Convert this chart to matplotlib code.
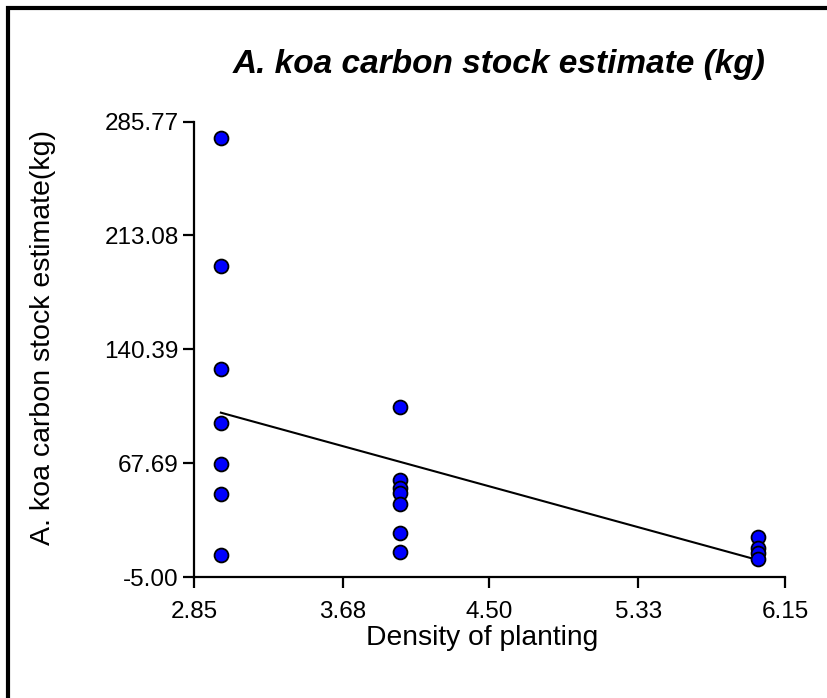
import matplotlib
matplotlib.use("Agg")
import matplotlib.pyplot as plt
from matplotlib.lines import Line2D

plt.rcParams['font.family'] = ['Liberation Sans', 'DejaVu Sans']

# Data
density_3 = [3.0] * 7
carbon_3 = [275.4, 193.7, 127.6, 93.1, 66.9, 47.8, 9.0]
density_4 = [4.0] * 7
carbon_4 = [103.3, 56.9, 51.8, 48.6, 41.6, 23.1, 11.0]
density_6 = [6.0] * 4
carbon_6 = [20.3, 13.3, 10.1, 6.3]

fit_x = [3.0, 6.0]
fit_y = [99.9, 5.8]

x_ticks = [2.85, 3.68, 4.50, 5.33, 6.15]
x_tick_labels = ["2.85", "3.68", "4.50", "5.33", "6.15"]
y_ticks = [-5.00, 67.69, 140.39, 213.08, 285.77]
y_tick_labels = ["-5.00", "67.69", "140.39", "213.08", "285.77"]

title = "A. koa carbon stock estimate (kg)"
x_label = "Density of planting"
y_label = "A. koa carbon stock estimate(kg)"

fig = plt.figure(figsize=(8.27, 6.98), dpi=100)
fig.patch.set_facecolor("white")
# frame: top and left edges visible in the reference
fx0, fy1 = 8 / 827, 1 - 8 / 698
fig.add_artist(Line2D([fx0, fx0, 1.0], [0.0, fy1, fy1], transform=fig.transFigure,
                      color="black", linewidth=3.0, solid_joinstyle="miter"))

ax = fig.add_axes([194 / 827, 1 - 577 / 698, 591 / 827, 455.5 / 698])

xs = density_3 + density_4 + density_6
ys = carbon_3 + carbon_4 + carbon_6
ax.plot(fit_x, fit_y, color="black", linewidth=1.5, zorder=2)
ax.scatter(xs, ys, s=100, c="#0000FF", edgecolors="black", linewidths=1.3, zorder=3,
           clip_on=False)

ax.set_xlim(2.85, 6.15)
ax.set_ylim(-5.00, 285.77)
ax.set_xticks(x_ticks)
ax.set_xticklabels(x_tick_labels)
ax.set_yticks(y_ticks)
ax.set_yticklabels(y_tick_labels)

for side in ["top", "right"]:
    ax.spines[side].set_visible(False)
for side in ["left", "bottom"]:
    ax.spines[side].set_linewidth(1.6)
ax.tick_params(axis="both", direction="out", length=8, width=1.6, labelsize=17.5)
ax.tick_params(axis="y", pad=3)
ax.tick_params(axis="x", pad=9)

ax.set_xlabel(x_label, fontsize=20.3)
ax.xaxis.set_label_coords(0.487, -0.106)
ax.set_ylabel(y_label, fontsize=20.5)
ax.yaxis.set_label_coords(-0.234, 0.525)
fig.text(0.604, 0.908, title, fontsize=24, fontweight="bold", fontstyle="italic",
         ha="center", va="center")

fig.savefig("out.png", dpi=100)
